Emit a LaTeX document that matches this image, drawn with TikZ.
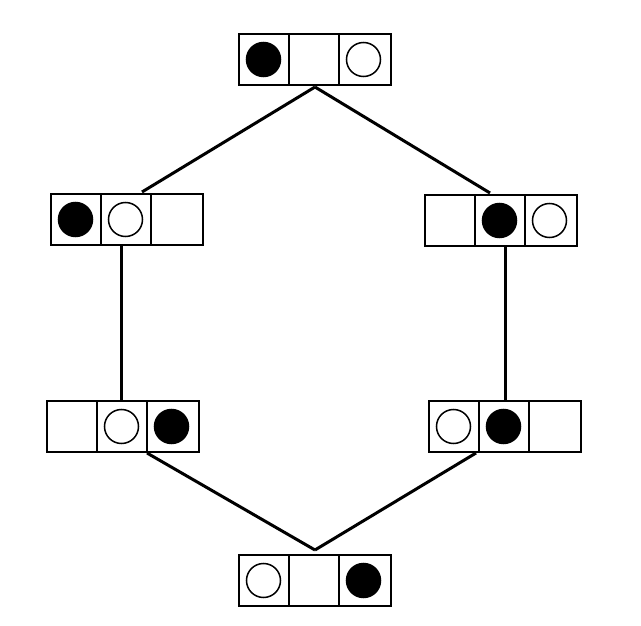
\documentclass[tikz,border=0pt]{standalone}
\usetikzlibrary{calc}
\begin{document}
\begin{tikzpicture}[x=1pt,y=-1pt,
  board/.style={draw,line width=2pt,minimum width=152pt,minimum height=51pt,inner sep=0pt,anchor=north west},
  conn/.style={line width=3pt},
  stone/.style={draw,line width=1.5pt,circle,minimum size=34pt,inner sep=0pt}]
\useasboundingbox (0,0) rectangle (641,626);
% #1 name, #2 x, #3 y, #4 cells (b/w/e)
\newcommand{\myboard}[6]{%
  \node[board] (#1) at (#2,#3) {};
  \draw[line width=2pt] ($(#1.north west)+(51,0)$) -- ($(#1.south west)+(51,0)$);
  \draw[line width=2pt] ($(#1.north west)+(101,0)$) -- ($(#1.south west)+(101,0)$);
  \mycell{#1}{0}{#4}\mycell{#1}{1}{#5}\mycell{#1}{2}{#6}}
\newcommand{\mycell}[3]{%
  \if#3b\node[stone,fill=black] (#1s#2) at ($(#1.west)+(25.5+50*#2,0)$) {};\fi
  \if#3w\node[stone,fill=white] (#1s#2) at ($(#1.west)+(25.5+50*#2,0)$) {};\fi}
\myboard{t}{238}{33}{b}{e}{w}
\myboard{lu}{50}{193}{b}{w}{e}
\myboard{ru}{424}{194}{e}{b}{w}
\myboard{ll}{46}{400}{e}{w}{b}
\myboard{rl}{428}{400}{w}{b}{e}
\myboard{b}{238}{554}{w}{e}{b}
\coordinate (tc) at ($(t.south)+(0,1)$);
\coordinate (bc) at ($(b.north)+(0,-4)$);
\draw[conn] (tc) -- ($(lu.north west)+(92,-1)$);
\draw[conn] (tc) -- ($(ru.north west)+(66,-1)$);
\draw[conn] ($(lu.south west)+(71,0)$) -- ($(ll.north west)+(75,0)$);
\draw[conn] ($(ru.south west)+(81,0)$) -- ($(rl.north west)+(77,0)$);
\draw[conn] ($(ll.south west)+(101,0)$) -- (bc);
\draw[conn] ($(rl.south west)+(48,0)$) -- (bc);
\end{tikzpicture}
\end{document}
